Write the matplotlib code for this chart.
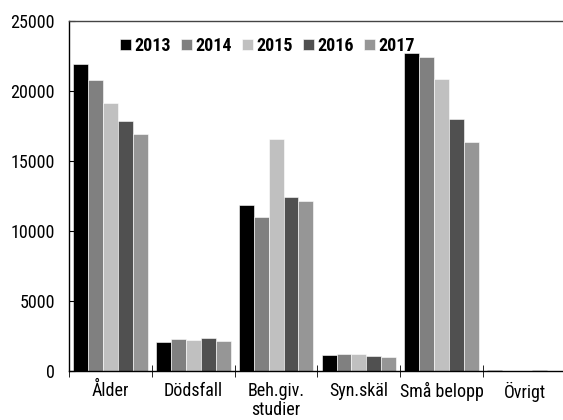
import numpy as np
import matplotlib
matplotlib.use("Agg")
import matplotlib.pyplot as plt

plt.rcParams["font.family"] = ["Roboto Condensed", "DejaVu Sans"]

categories = ["Ålder", "Dödsfall", "Beh.giv.\nstudier", "Syn.skäl", "Små belopp", "Övrigt"]
years = ["2013", "2014", "2015", "2016", "2017"]
v2013 = [21930, 2070, 11860, 1140, 22710, 100]
v2014 = [20790, 2290, 11000, 1210, 22430, 30]
v2015 = [19140, 2210, 16570, 1210, 20860, 20]
v2016 = [17860, 2360, 12430, 1070, 18000, 60]
v2017 = [16930, 2140, 12140, 1000, 16360, 30]
series = [v2013, v2014, v2015, v2016, v2017]
colors = ["#000000", "#808080", "#c0c0c0", "#505050", "#969696"]

fig = plt.figure(figsize=(5.63, 4.2), dpi=100)
ax = fig.add_axes([69 / 563, 1 - 371 / 420, 497 / 563, 350 / 420])

x = np.arange(len(categories))
w = 0.18
for i, (yr, vals, c) in enumerate(zip(years, series, colors)):
    ax.bar(x + (i - 2) * w, vals, w, color=c, label=yr,
           edgecolor="white", linewidth=0.4)

ax.set_xlim(-0.5, len(categories) - 0.5)
ax.set_ylim(0, 25000)
ax.set_yticks(range(0, 25001, 5000))
ax.tick_params(axis="y", direction="in", length=4, labelsize=13, pad=10)
ax.set_xticks(x)
ax.set_xticklabels(categories, fontsize=13, linespacing=1.05)
ax.tick_params(axis="x", length=0, pad=8)
ax.set_xticks(np.arange(len(categories) + 1) - 0.5, minor=True)
ax.tick_params(axis="x", which="minor", direction="inout", length=8)

for s in ["left", "bottom", "top"]:
    ax.spines[s].set_linewidth(1.0)
ax.spines["top"].set_color("#444444")
ax.spines["right"].set_visible(False)

ax.legend(loc="upper left", bbox_to_anchor=(0.103, 0.955), ncol=5,
          frameon=False, prop={"weight": "bold", "size": 13},
          handlelength=0.6, handleheight=0.6, handletextpad=0.2,
          columnspacing=0.55, borderaxespad=0, borderpad=0)

fig.savefig("out.png", dpi=100)
